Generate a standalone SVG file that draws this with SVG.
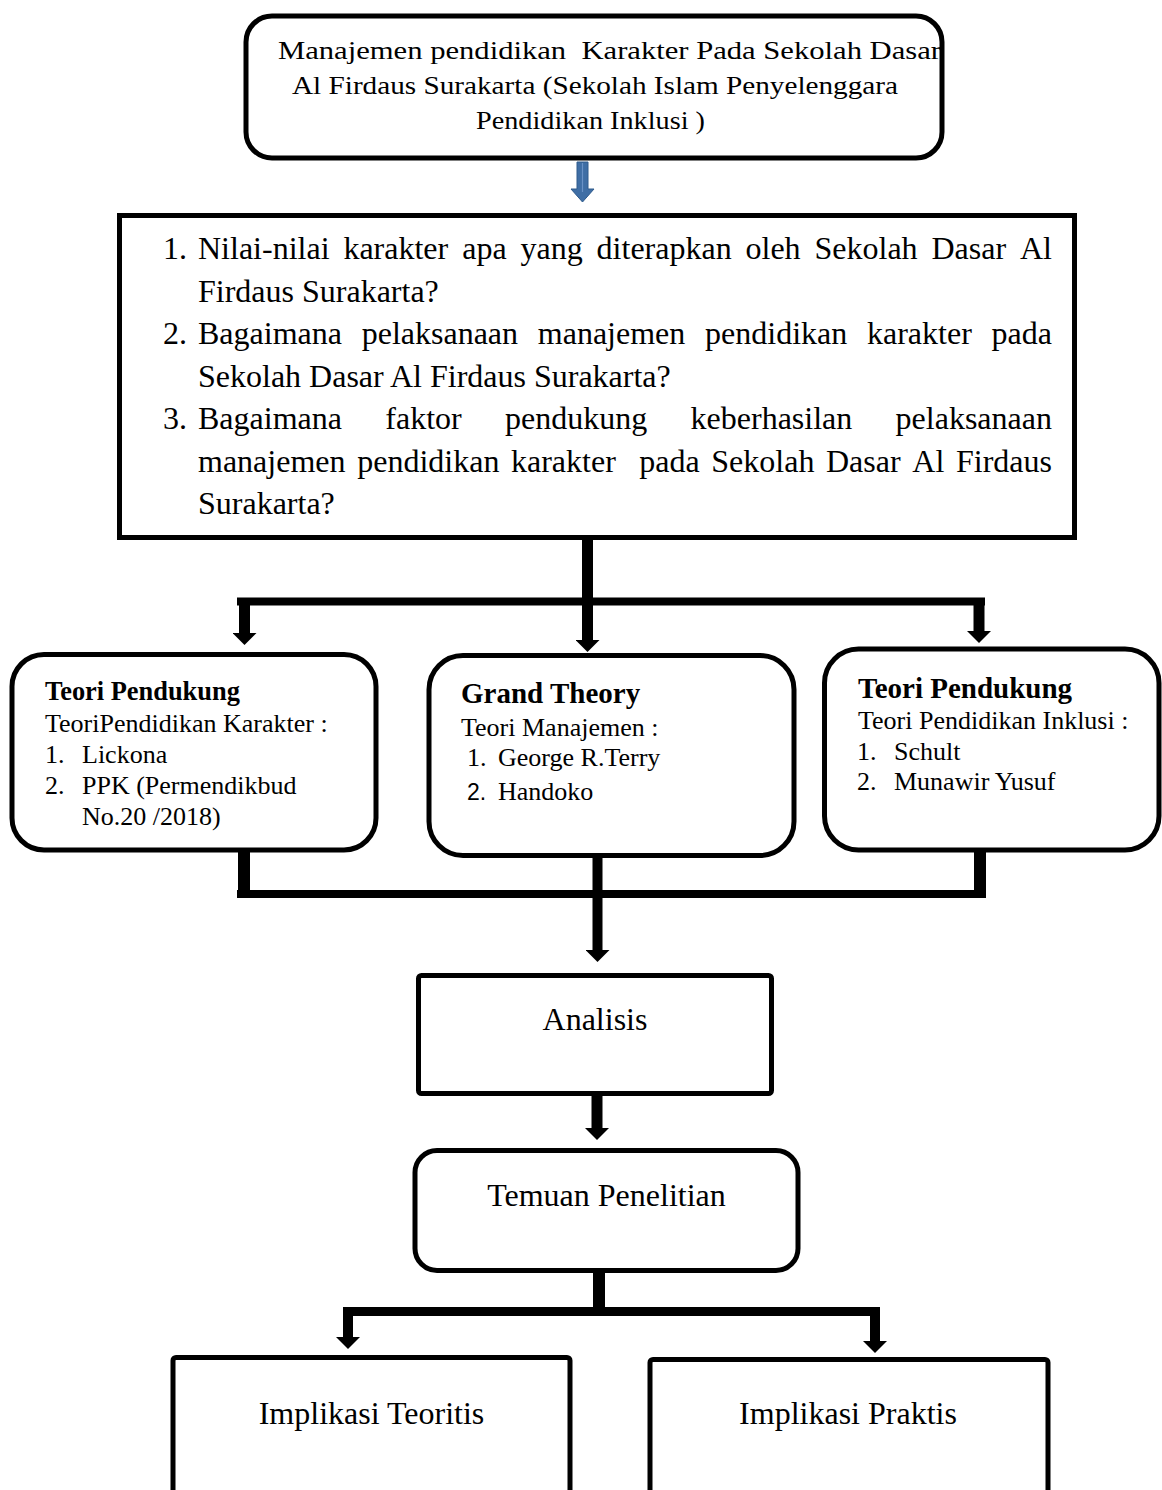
<svg xmlns="http://www.w3.org/2000/svg" width="1162" height="1490" viewBox="0 0 1162 1490">
<style>
.box{fill:#fff;stroke:#000;stroke-width:5}
.t{font-family:"Liberation Serif","Times New Roman",serif;fill:#000}
.b{font-weight:bold}
.c{fill:none;stroke:#000;stroke-linecap:butt}
</style>
<defs>
<marker id="ah" markerUnits="userSpaceOnUse" markerWidth="12" markerHeight="24" viewBox="0 0 12 24" refX="0" refY="12" orient="auto">
<path d="M0,0 L12,12 L0,24 z" fill="#000"/>
</marker>
</defs>
<rect width="1162" height="1490" fill="#fff"/>

<g id="connectors">
<polygon points="577,162 588,162 588,189 594,189 582.5,202 571,189 577,189" fill="#3F6EA5" stroke="#2E5A8C" stroke-width="1"/>
<line x1="582.5" y1="163" x2="582.5" y2="192" stroke="#6A92C6" stroke-width="1.2"/>
<path class="c" d="M587.5,540 V640" stroke-width="11" marker-end="url(#ah)"/>
<path class="c" d="M237,601.5 H985" stroke-width="8"/>
<path class="c" d="M244.5,601 V633" stroke-width="11" marker-end="url(#ah)"/>
<path class="c" d="M979,601 V631" stroke-width="11" marker-end="url(#ah)"/>
<path class="c" d="M244,852 V897" stroke-width="12"/>
<path class="c" d="M980,852 V897" stroke-width="12"/>
<path class="c" d="M237,894 H986" stroke-width="8"/>
<path class="c" d="M597.5,858 V950" stroke-width="10" marker-end="url(#ah)"/>
<path class="c" d="M597,1096 V1128" stroke-width="11" marker-end="url(#ah)"/>
<path class="c" d="M599,1272 V1311" stroke-width="12"/>
<path class="c" d="M343,1311.5 H880" stroke-width="9"/>
<path class="c" d="M348,1311 V1337" stroke-width="10" marker-end="url(#ah)"/>
<path class="c" d="M875,1311 V1341" stroke-width="10" marker-end="url(#ah)"/>
</g>

<g id="judul">
<rect class="box" x="246" y="16" width="696" height="142" rx="26" stroke-width="4.5"/>
<text class="t" font-size="26" xml:space="preserve"><tspan x="278" y="59" textLength="663" lengthAdjust="spacingAndGlyphs">Manajemen pendidikan  Karakter Pada Sekolah Dasar</tspan></text>
<text class="t" font-size="26" x="292" y="94" textLength="606" lengthAdjust="spacingAndGlyphs">Al Firdaus Surakarta (Sekolah Islam Penyelenggara</text>
<text class="t" font-size="26" x="476" y="129" textLength="229" lengthAdjust="spacingAndGlyphs">Pendidikan Inklusi )</text>
</g>

<g id="rumusan">
<rect class="box" x="119.5" y="215.5" width="955" height="322"/>
<text class="t" font-size="32">
<tspan x="163" y="259">1.</tspan><tspan x="198" y="259">Nilai-nilai</tspan><tspan x="343.4" y="259">karakter</tspan><tspan x="462.2" y="259">apa</tspan><tspan x="520.5" y="259">yang</tspan><tspan x="596.6" y="259">diterapkan</tspan><tspan x="745.5" y="259">oleh</tspan><tspan x="814.5" y="259">Sekolah</tspan><tspan x="931.5" y="259">Dasar</tspan><tspan x="1020" y="259">Al</tspan>
<tspan x="198" y="301.5">Firdaus Surakarta?</tspan>
<tspan x="163" y="344">2.</tspan><tspan x="198" y="344">Bagaimana</tspan><tspan x="361.7" y="344">pelaksanaan</tspan><tspan x="537.8" y="344">manajemen</tspan><tspan x="705.1" y="344">pendidikan</tspan><tspan x="867" y="344">karakter</tspan><tspan x="991.6" y="344">pada</tspan>
<tspan x="198" y="386.5">Sekolah Dasar Al Firdaus Surakarta?</tspan>
<tspan x="163" y="429">3.</tspan><tspan x="198" y="429">Bagaimana</tspan><tspan x="385.3" y="429">faktor</tspan><tspan x="505" y="429">pendukung</tspan><tspan x="690.6" y="429">keberhasilan</tspan><tspan x="895.6" y="429">pelaksanaan</tspan>
<tspan x="198" y="471.5">manajemen</tspan><tspan x="357.2" y="471.5">pendidikan</tspan><tspan x="511" y="471.5">karakter</tspan><tspan x="639.2" y="471.5">pada</tspan><tspan x="711.3" y="471.5">Sekolah</tspan><tspan x="826" y="471.5">Dasar</tspan><tspan x="912.3" y="471.5">Al</tspan><tspan x="956" y="471.5">Firdaus</tspan>
<tspan x="198" y="514">Surakarta?</tspan>
</text>
</g>

<g id="teori-karakter">
<rect class="box" x="12" y="654.5" width="364" height="195.5" rx="32" stroke-width="5.5"/>
<text class="t b" font-size="26.4" x="45" y="700">Teori Pendukung</text>
<text class="t" font-size="26" x="45" y="732">TeoriPendidikan Karakter :</text>
<text class="t" font-size="26"><tspan x="45" y="763">1.</tspan><tspan x="82" y="763">Lickona</tspan><tspan x="45" y="794">2.</tspan><tspan x="82" y="794">PPK (Permendikbud</tspan><tspan x="82" y="825">No.20 /2018)</tspan></text>
</g>

<g id="grand-theory">
<rect class="box" x="429" y="655.5" width="365" height="200" rx="34" stroke-width="5.5"/>
<text class="t b" font-size="29" x="461" y="703">Grand Theory</text>
<text class="t" font-size="26" x="461" y="736">Teori Manajemen :</text>
<text class="t" font-size="26"><tspan x="467" y="766">1.</tspan><tspan x="498" y="766">George R.Terry</tspan><tspan x="498" y="800">Handoko</tspan></text>
<text font-family="'Liberation Sans',Arial,sans-serif" font-size="23" x="467" y="800" fill="#000">2.</text>
</g>

<g id="teori-inklusi">
<rect class="box" x="824.5" y="649" width="334.5" height="201" rx="34" stroke-width="5.5"/>
<text class="t b" font-size="29" x="858" y="698">Teori Pendukung</text>
<text class="t" font-size="26" x="858" y="729">Teori Pendidikan Inklusi :</text>
<text class="t" font-size="26"><tspan x="857" y="760">1.</tspan><tspan x="894" y="760">Schult</tspan><tspan x="857" y="790">2.</tspan><tspan x="894" y="790">Munawir Yusuf</tspan></text>
</g>

<g id="analisis">
<rect class="box" x="418.5" y="975.5" width="353" height="118" rx="3"/>
<text class="t" font-size="32" x="595" y="1030" text-anchor="middle">Analisis</text>
</g>

<g id="temuan">
<rect class="box" x="415" y="1150.5" width="383" height="120" rx="22"/>
<text class="t" font-size="32" x="606.5" y="1206" text-anchor="middle">Temuan Penelitian</text>
</g>

<g id="implikasi-teoritis">
<rect class="box" x="173" y="1357.5" width="397" height="200" rx="3"/>
<text class="t" font-size="32" x="371.5" y="1424" text-anchor="middle">Implikasi Teoritis</text>
</g>

<g id="implikasi-praktis">
<rect class="box" x="650" y="1359.5" width="398" height="200" rx="3"/>
<text class="t" font-size="32" x="848" y="1424" text-anchor="middle">Implikasi Praktis</text>
</g>
</svg>
